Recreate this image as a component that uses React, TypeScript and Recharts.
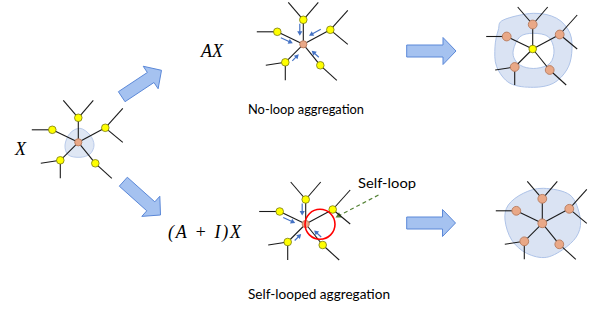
import React from 'react';
import { ScatterChart, Scatter, XAxis, YAxis, ReferenceLine, ReferenceDot } from 'recharts';

const W = 591;
const H = 315;

// graph centres (pixel-space data units)
const graphCenters = [
  { id: 'input', x: 78.3, y: 142.3, center: 'orange', neighbor: 'yellow' },
  { id: 'noLoop', x: 303.3, y: 44.3, center: 'orange', neighbor: 'yellow' },
  { id: 'noLoopOut', x: 532.7, y: 49, center: 'yellow', neighbor: 'orange' },
  { id: 'selfLoop', x: 305.7, y: 224, center: 'orange', neighbor: 'yellow' },
  { id: 'selfLoopOut', x: 542.3, y: 223.3, center: 'orange', neighbor: 'orange' },
];

// neighbour positions relative to a centre
const neighborOffsets = [
  [0, -24.5],
  [-26, -12.5],
  [27, -14.5],
  [-18, 18],
  [17, 21],
];

// leaf edge ends (relative to centre), one list per neighbour
const leafOffsets = [
  [[-15, -42], [15, -42]],
  [[-46.5, -12.5]],
  [[44.5, -34], [44.5, 0]],
  [[-37.5, 21], [-18, 36]],
  [[33.5, 36]],
];

// message arrows (relative to centre): from -> to, per neighbour
const messageArrows = [
  [[-3.5, -20.5], [-3.5, -8.5]],
  [[-22.5, -6.5], [-10.5, -1]],
  [[17.5, -15], [5.7, -8.6]],
  [[-11, 16.5], [-4.5, 10]],
  [[15.5, 13], [8.4, 6.4]],
];
const messageGraphs = [
  { id: 'noLoop', skip: -1 },
  { id: 'selfLoop', skip: 2 },
];

// big block arrows
const blockArrows = [
  { x1: 121.7, y1: 96.7, x2: 161.5, y2: 70.3 },
  { x1: 123.3, y1: 181.7, x2: 160.5, y2: 215 },
  { x1: 406.7, y1: 51, x2: 456, y2: 51 },
  { x1: 406.7, y1: 223, x2: 455.5, y2: 223 },
];

// blob outlines (relative to anchor)
const inputBlob = [[1.7, -14], [11.7, -7.3], [15.7, 2.7], [11.7, 11.7], [1.7, 15], [-10, 12.7], [-13.3, 2.7], [-8.3, -9]];
const ringOuter = [[-29.4, -29], [0.6, -35.7], [24, -30.7], [37.3, -15.7], [39, 4.3], [34, 21], [20.6, 34.3], [0.6, 38.3], [-22.7, 34.3], [-36, 17.7], [-37.7, -2.3], [-34.4, -19]];
const ringInner = [[-19.4, 1], [-12.7, -12.3], [0.6, -15.7], [15.6, -12.3], [21.3, 1], [17.3, 14.3], [4, 19.3], [-9.4, 17.7], [-17.7, 11]];
const outBlob = [[1, -35], [27.7, -28.3], [37.7, -6.6], [36, 10], [24.4, 23.4], [4.4, 34], [-15.6, 30], [-30.6, 16.7], [-37.3, -3.3], [-34, -18.3], [-19, -30]];
const blobAnchors = [
  { x: 78.3, y: 142.3, outlines: [inputBlob], opacity: 0.85 },
  { x: 532.7, y: 49, outlines: [ringOuter, ringInner], opacity: 1 },
  { x: 542.3, y: 223.3, outlines: [outBlob], opacity: 1 },
];

const selfLoopCircle = { x: 320, y: 224.3 };
const selfLoopPointer = { x1: 378.5, y1: 195, x2: 335.5, y2: 217.5 };

const labels = [
  { text: 'X', x: 15, y: 155, kind: 'math', len: 0 },
  { text: 'AX', x: 201, y: 56.5, kind: 'math', len: 0 },
  { text: '(A + I)X', x: 168, y: 237.5, kind: 'math', len: 73 },
  { text: 'No-loop aggregation', x: 248, y: 113.5, kind: 'sans', len: 116 },
  { text: 'Self-looped aggregation', x: 248, y: 298.7, kind: 'sans', len: 142 },
  { text: 'Self-loop', x: 358, y: 187.5, kind: 'sans', len: 58 },
];

// ---- derived tables ----
const nodes: any[] = [];
const edges: any[] = [];
graphCenters.forEach((g) => {
  neighborOffsets.forEach((o, i) => {
    const nx = g.x + o[0];
    const ny = g.y + o[1];
    edges.push([{ x: g.x, y: g.y }, { x: nx, y: ny }]);
    leafOffsets[i].forEach((l) => edges.push([{ x: nx, y: ny }, { x: g.x + l[0], y: g.y + l[1] }]));
    nodes.push({ x: nx, y: ny, kind: g.neighbor, big: g.neighbor === 'orange' });
  });
  nodes.push({ x: g.x, y: g.y, kind: g.center, big: g.center === 'orange' && g.neighbor === 'orange' });
});
const messages: any[] = [];
messageGraphs.forEach((mg) => {
  const g = graphCenters.find((c) => c.id === mg.id)!;
  messageArrows.forEach((a, i) => {
    if (i === mg.skip) return;
    messages.push({ x1: g.x + a[0][0], y1: g.y + a[0][1], x2: g.x + a[1][0], y2: g.y + a[1][1] });
  });
});

function closedPath(cx: number, cy: number, pts: number[][]) {
  const p = pts.map((q) => [cx + q[0], cy + q[1]]);
  const n = p.length;
  let d = `M${p[0][0]},${p[0][1]}`;
  for (let i = 0; i < n; i++) {
    const p0 = p[(i - 1 + n) % n];
    const p1 = p[i];
    const p2 = p[(i + 1) % n];
    const p3 = p[(i + 2) % n];
    const c1x = p1[0] + (p2[0] - p0[0]) / 6;
    const c1y = p1[1] + (p2[1] - p0[1]) / 6;
    const c2x = p2[0] - (p3[0] - p1[0]) / 6;
    const c2y = p2[1] - (p3[1] - p1[1]) / 6;
    d += ` C${c1x},${c1y} ${c2x},${c2y} ${p2[0]},${p2[1]}`;
  }
  return d + ' Z';
}

const BlobShape = (props: any) => {
  const { cx, cy, payload } = props;
  const d = payload.outlines.map((o: number[][]) => closedPath(cx, cy, o)).join(' ');
  return <path d={d} fill="#dae3f3" fillRule="evenodd" stroke="#aec3e8" strokeWidth={1} opacity={payload.opacity} />;
};

const NoShape = () => <g />;

const NodeShape = (props: any) => {
  const { cx, cy, payload } = props;
  if (payload.kind === 'yellow') {
    return <circle cx={cx} cy={cy} r={3.8} fill="#ffff00" stroke="#7a7a10" strokeWidth={0.8} />;
  }
  return <circle cx={cx} cy={cy} r={payload.big ? 4.4 : 3.6} fill="#e9a887" stroke="#b77a5c" strokeWidth={0.9} />;
};

const BlockArrow = (props: any) => {
  const { x1, y1, x2, y2 } = props;
  const dx = x2 - x1;
  const dy = y2 - y1;
  const L = Math.hypot(dx, dy);
  const ux = dx / L;
  const uy = dy / L;
  const px = -uy;
  const py = ux;
  const bw = 6;
  const hw = 13.5;
  const hl = 13;
  const bx = x2 - ux * hl;
  const by = y2 - uy * hl;
  const pts = [
    [x1 + px * bw, y1 + py * bw],
    [bx + px * bw, by + py * bw],
    [bx + px * hw, by + py * hw],
    [x2, y2],
    [bx - px * hw, by - py * hw],
    [bx - px * bw, by - py * bw],
    [x1 - px * bw, y1 - py * bw],
  ];
  return <polygon points={pts.map((q) => q.join(',')).join(' ')} fill="#a5c2f0" stroke="#5b88d8" strokeWidth={1} strokeLinejoin="miter" />;
};

const arrowHead = (x1: number, y1: number, x2: number, y2: number, len: number, half: number) => {
  const L = Math.hypot(x2 - x1, y2 - y1);
  const ux = (x2 - x1) / L;
  const uy = (y2 - y1) / L;
  const bx = x2 - ux * len;
  const by = y2 - uy * len;
  return `${x2},${y2} ${bx - uy * half},${by + ux * half} ${bx + uy * half},${by - ux * half}`;
};

const MessageArrow = (props: any) => {
  const { x1, y1, x2, y2 } = props;
  const L = Math.hypot(x2 - x1, y2 - y1);
  const ex = x2 - ((x2 - x1) / L) * 3;
  const ey = y2 - ((y2 - y1) / L) * 3;
  return (
    <g>
      <line x1={x1} y1={y1} x2={ex} y2={ey} stroke="#4472c4" strokeWidth={1.2} />
      <polygon points={arrowHead(x1, y1, x2, y2, 4.5, 2.6)} fill="#4472c4" />
    </g>
  );
};

const PointerArrow = (props: any) => {
  const { x1, y1, x2, y2 } = props;
  const L = Math.hypot(x2 - x1, y2 - y1);
  const ex = x2 - ((x2 - x1) / L) * 4;
  const ey = y2 - ((y2 - y1) / L) * 4;
  return (
    <g>
      <line x1={x1} y1={y1} x2={ex} y2={ey} stroke="#548235" strokeWidth={1.2} strokeDasharray="4 3" />
      <polygon points={arrowHead(x1, y1, x2, y2, 5.5, 3)} fill="#548235" />
    </g>
  );
};

const LabelShape = (item: any) => (props: any) => {
  const { cx, cy } = props;
  const math = item.kind === 'math';
  return (
    <text
      x={cx}
      y={cy}
      fontFamily={math ? '"Liberation Serif", serif' : 'Lato, "Noto Sans", sans-serif'}
      fontStyle={math ? 'italic' : 'normal'}
      fontSize={math ? 18 : 13.5}
      fill="#000"
      textLength={item.len || undefined}
      lengthAdjust={math ? 'spacing' : 'spacingAndGlyphs'}
    >
      {item.text}
    </text>
  );
};

export default function App() {
  return (
    <div style={{ position: 'absolute', left: 0, top: 0, width: W, height: H, background: '#fff' }}>
      <ScatterChart width={W} height={H} margin={{ top: 0, right: 0, bottom: 0, left: 0 }}>
        <XAxis type="number" dataKey="x" domain={[0, W]} hide allowDataOverflow />
        <YAxis type="number" dataKey="y" domain={[0, H]} reversed hide allowDataOverflow />
        <Scatter data={blobAnchors} shape={BlobShape} isAnimationActive={false} />
        {edges.map((e, i) => (
          <Scatter
            key={`e${i}`}
            data={e}
            line={{ stroke: '#1a1a1a', strokeWidth: 1.1 }}
            shape={NoShape}
            isAnimationActive={false}
          />
        ))}
        {messages.map((m, i) => (
          <ReferenceLine
            key={`m${i}`}
            segment={[{ x: m.x1, y: m.y1 }, { x: m.x2, y: m.y2 }]}
            shape={MessageArrow}
            ifOverflow="visible"
          />
        ))}
        {blockArrows.map((a, i) => (
          <ReferenceLine
            key={`b${i}`}
            segment={[{ x: a.x1, y: a.y1 }, { x: a.x2, y: a.y2 }]}
            shape={BlockArrow}
            ifOverflow="visible"
          />
        ))}
        <Scatter data={nodes} shape={NodeShape} isAnimationActive={false} />
        <ReferenceDot x={selfLoopCircle.x} y={selfLoopCircle.y} r={15} fill="none" stroke="#ff0000" strokeWidth={1.6} ifOverflow="visible" />
        <ReferenceLine
          segment={[{ x: selfLoopPointer.x1, y: selfLoopPointer.y1 }, { x: selfLoopPointer.x2, y: selfLoopPointer.y2 }]}
          shape={PointerArrow}
          ifOverflow="visible"
        />
        {labels.map((l, i) => (
          <ReferenceDot key={`l${i}`} x={l.x} y={l.y} r={0} shape={LabelShape(l)} ifOverflow="visible" />
        ))}
      </ScatterChart>
    </div>
  );
}
